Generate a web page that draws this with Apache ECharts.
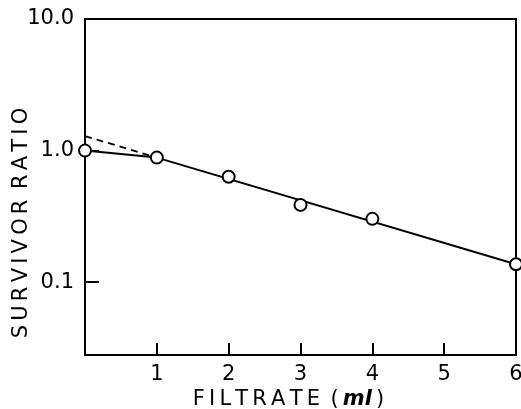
<!DOCTYPE html>
<html>
<head>
<meta charset="utf-8">
<script src="https://cdn.jsdelivr.net/npm/echarts@6/dist/echarts.min.js"></script>
<style>html,body{margin:0;padding:0;background:#fff;}#c{width:521px;height:409px;}</style>
</head>
<body>
<div id="c"></div>
<script>
// Measured survivor ratios
const filtrate = [0, 1, 2, 3, 4, 6];
const survivor = [1.0, 0.885, 0.633, 0.387, 0.303, 0.137];
// Fitted line (solid) and extrapolation (dashed)
const fitX = [0, 1, 6];
const fitY = [1.0, 0.885, 0.137];
const dashX = [0, 1];
const dashY = [1.29, 0.885];
// Tick labels
const xTickLabels = ['', '1', '2', '3', '4', '5', '6'];
const yTickValues = [0.1, 1, 10];
const yTickLabels = ['0.1', '1.0', '10.0'];

const pairs = (xs, ys) => xs.map((x, i) => [x, ys[i]]);
const FONT = 'DejaVu Sans';

const chart = echarts.init(document.getElementById('c'));
chart.setOption({
  animation: false,
  backgroundColor: '#fff',
  grid: {left: 85, right: 5, top: 19, bottom: 54, outerBoundsMode: 'none', containLabel: false,
    show: true, borderColor: '#000', borderWidth: 2},
  xAxis: {
    type: 'value', min: 0, max: 6, interval: 1,
    axisLine: {lineStyle: {color: '#000', width: 2}},
    axisTick: {inside: true, length: 12, lineStyle: {color: '#000', width: 2}},
    splitLine: {show: false},
    axisLabel: {
      color: '#000', fontFamily: FONT, fontSize: 21, margin: 9,
      formatter: v => xTickLabels[Math.round(v)] || ''
    },
    name: 'F\u2009I\u2009L\u2009T\u2009R\u2009A\u2009T\u2009E\u2002(\u2009{it|ml}\u2009)',
    nameLocation: 'middle', nameGap: 34, nameMoveOverlap: false,
    nameTextStyle: {color: '#000', fontFamily: FONT, fontSize: 21, padding: [0, 24, 0, 0],
      rich: {it: {fontStyle: 'italic', fontWeight: 'bold', fontFamily: FONT, fontSize: 21, color: '#000'}}}
  },
  yAxis: {
    type: 'log', logBase: 10, min: 0.028, max: 10,
    axisLine: {lineStyle: {color: '#000', width: 2}},
    axisTick: {inside: true, length: 14, lineStyle: {color: '#000', width: 2}},
    minorTick: {show: false},
    splitLine: {show: false},
    axisLabel: {
      color: '#000', fontFamily: FONT, fontSize: 21, margin: 11,
      formatter: v => {
        for (let i = 0; i < yTickValues.length; i++) {
          if (Math.abs(Math.log10(v) - Math.log10(yTickValues[i])) < 1e-6) return yTickLabels[i];
        }
        return '';
      }
    },
    name: 'S\u2009U\u2009R\u2009V\u2009I\u2009V\u2009O\u2009R\u2002R\u2009A\u2009T\u2009I\u2009O',
    nameLocation: 'middle', nameGap: 53, nameRotate: 90, nameMoveOverlap: false,
    nameTextStyle: {color: '#000', fontFamily: FONT, fontSize: 21, padding: [0, 72, 0, 0]}
  },
  series: [
    {type: 'line', data: pairs(dashX, dashY), symbol: 'none', lineStyle: {color: '#000', width: 1.8, type: [7, 5]}, z: 2},
    {type: 'line', data: pairs(fitX, fitY), symbol: 'none', lineStyle: {color: '#000', width: 2}, z: 3},
    {type: 'scatter', data: pairs(filtrate, survivor), symbol: 'circle', symbolSize: 12,
      itemStyle: {color: '#fff', opacity: 1, borderColor: '#000', borderWidth: 2}, z: 4}
  ]
});
</script>
</body>
</html>
